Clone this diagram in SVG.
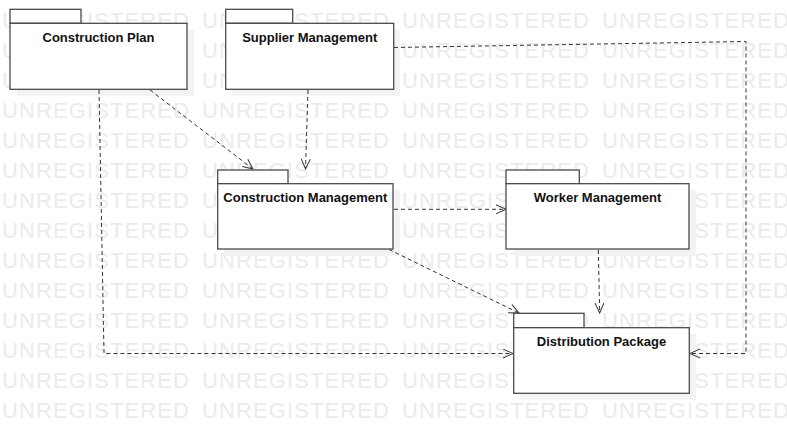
<svg xmlns="http://www.w3.org/2000/svg" width="787" height="433" viewBox="0 0 787 433">
<defs>
<style>
.wm{font-family:"Liberation Sans",Arial,sans-serif;font-size:22px;fill:#ebebeb}
.sh{fill:#f3f3f3}
.box{fill:#fff;stroke:#4a4a4a;stroke-width:1.3}
.lbl{font-family:"Liberation Sans",Arial,sans-serif;font-size:13px;font-weight:bold;fill:#111;text-anchor:middle}
.dep{fill:none;stroke:#333;stroke-width:1;stroke-dasharray:4,3}
</style>
<marker id="open" markerUnits="userSpaceOnUse" markerWidth="14" markerHeight="12" refX="11" refY="5" orient="auto" viewBox="0 0 14 12">
<path d="M1,0.5 L11,5 L1,9.5" fill="none" stroke="#333" stroke-width="1"/>
</marker>
</defs>
<rect width="787" height="433" fill="#fff"/>
<g id="watermark">
<text class="wm" x="2" y="27.7" textLength="187">UNREGISTERED</text><text class="wm" x="202" y="27.7" textLength="187">UNREGISTERED</text><text class="wm" x="402" y="27.7" textLength="187">UNREGISTERED</text><text class="wm" x="602" y="27.7" textLength="187">UNREGISTERED</text>
<text class="wm" x="2" y="57.7" textLength="187">UNREGISTERED</text><text class="wm" x="202" y="57.7" textLength="187">UNREGISTERED</text><text class="wm" x="402" y="57.7" textLength="187">UNREGISTERED</text><text class="wm" x="602" y="57.7" textLength="187">UNREGISTERED</text>
<text class="wm" x="2" y="87.7" textLength="187">UNREGISTERED</text><text class="wm" x="202" y="87.7" textLength="187">UNREGISTERED</text><text class="wm" x="402" y="87.7" textLength="187">UNREGISTERED</text><text class="wm" x="602" y="87.7" textLength="187">UNREGISTERED</text>
<text class="wm" x="2" y="117.7" textLength="187">UNREGISTERED</text><text class="wm" x="202" y="117.7" textLength="187">UNREGISTERED</text><text class="wm" x="402" y="117.7" textLength="187">UNREGISTERED</text><text class="wm" x="602" y="117.7" textLength="187">UNREGISTERED</text>
<text class="wm" x="2" y="147.7" textLength="187">UNREGISTERED</text><text class="wm" x="202" y="147.7" textLength="187">UNREGISTERED</text><text class="wm" x="402" y="147.7" textLength="187">UNREGISTERED</text><text class="wm" x="602" y="147.7" textLength="187">UNREGISTERED</text>
<text class="wm" x="2" y="177.7" textLength="187">UNREGISTERED</text><text class="wm" x="202" y="177.7" textLength="187">UNREGISTERED</text><text class="wm" x="402" y="177.7" textLength="187">UNREGISTERED</text><text class="wm" x="602" y="177.7" textLength="187">UNREGISTERED</text>
<text class="wm" x="2" y="207.7" textLength="187">UNREGISTERED</text><text class="wm" x="202" y="207.7" textLength="187">UNREGISTERED</text><text class="wm" x="402" y="207.7" textLength="187">UNREGISTERED</text><text class="wm" x="602" y="207.7" textLength="187">UNREGISTERED</text>
<text class="wm" x="2" y="237.7" textLength="187">UNREGISTERED</text><text class="wm" x="202" y="237.7" textLength="187">UNREGISTERED</text><text class="wm" x="402" y="237.7" textLength="187">UNREGISTERED</text><text class="wm" x="602" y="237.7" textLength="187">UNREGISTERED</text>
<text class="wm" x="2" y="267.7" textLength="187">UNREGISTERED</text><text class="wm" x="202" y="267.7" textLength="187">UNREGISTERED</text><text class="wm" x="402" y="267.7" textLength="187">UNREGISTERED</text><text class="wm" x="602" y="267.7" textLength="187">UNREGISTERED</text>
<text class="wm" x="2" y="297.7" textLength="187">UNREGISTERED</text><text class="wm" x="202" y="297.7" textLength="187">UNREGISTERED</text><text class="wm" x="402" y="297.7" textLength="187">UNREGISTERED</text><text class="wm" x="602" y="297.7" textLength="187">UNREGISTERED</text>
<text class="wm" x="2" y="327.7" textLength="187">UNREGISTERED</text><text class="wm" x="202" y="327.7" textLength="187">UNREGISTERED</text><text class="wm" x="402" y="327.7" textLength="187">UNREGISTERED</text><text class="wm" x="602" y="327.7" textLength="187">UNREGISTERED</text>
<text class="wm" x="2" y="357.7" textLength="187">UNREGISTERED</text><text class="wm" x="202" y="357.7" textLength="187">UNREGISTERED</text><text class="wm" x="402" y="357.7" textLength="187">UNREGISTERED</text><text class="wm" x="602" y="357.7" textLength="187">UNREGISTERED</text>
<text class="wm" x="2" y="387.7" textLength="187">UNREGISTERED</text><text class="wm" x="202" y="387.7" textLength="187">UNREGISTERED</text><text class="wm" x="402" y="387.7" textLength="187">UNREGISTERED</text><text class="wm" x="602" y="387.7" textLength="187">UNREGISTERED</text>
<text class="wm" x="2" y="417.7" textLength="187">UNREGISTERED</text><text class="wm" x="202" y="417.7" textLength="187">UNREGISTERED</text><text class="wm" x="402" y="417.7" textLength="187">UNREGISTERED</text><text class="wm" x="602" y="417.7" textLength="187">UNREGISTERED</text>
</g>
<g id="shadows">
<rect class="sh" x="17" y="30" width="177" height="66"/>
<rect class="sh" x="232" y="30" width="168" height="66"/>
<rect class="sh" x="224" y="190" width="176" height="66"/>
<rect class="sh" x="513" y="190" width="183" height="66"/>
<rect class="sh" x="520" y="334" width="176" height="66"/>
</g>
<g id="connectors">
<line class="dep" x1="150" y1="90" x2="253" y2="169" marker-end="url(#open)"/>
<line class="dep" x1="308" y1="90" x2="305.5" y2="169" marker-end="url(#open)"/>
<polyline class="dep" points="99,90 104,353.5 513,353.5" marker-end="url(#open)"/>
<polyline class="dep" points="394,47.5 746,41.5 746,353.5 690,353.5" marker-end="url(#open)"/>
<line class="dep" x1="394" y1="209.3" x2="506" y2="209.3" marker-end="url(#open)"/>
<line class="dep" x1="389" y1="249.5" x2="519" y2="313" marker-end="url(#open)"/>
<line class="dep" x1="598.3" y1="250" x2="599.7" y2="313" marker-end="url(#open)"/>
</g>
<g id="construction-plan">
<rect class="box" x="10" y="9.3" width="71" height="14"/>
<rect class="box" x="10" y="23.3" width="177" height="66"/>
<text class="lbl" x="98.5" y="41.5">Construction Plan</text>
</g>
<g id="supplier-management">
<rect class="box" x="225.7" y="9.3" width="67" height="14"/>
<rect class="box" x="225.7" y="23.3" width="168" height="66"/>
<text class="lbl" x="309.7" y="41.5">Supplier Management</text>
</g>
<g id="construction-management">
<rect class="box" x="217.7" y="170" width="70.3" height="13.7"/>
<rect class="box" x="217.7" y="183.7" width="175.3" height="65.3"/>
<text class="lbl" x="305.3" y="201.7">Construction Management</text>
</g>
<g id="worker-management">
<rect class="box" x="506" y="170" width="73.3" height="13.7"/>
<rect class="box" x="506" y="183.7" width="183" height="65.3"/>
<text class="lbl" x="597.5" y="201.7">Worker Management</text>
</g>
<g id="distribution-package">
<rect class="box" x="513.7" y="313.3" width="70.3" height="14.4"/>
<rect class="box" x="513.7" y="327.7" width="175.6" height="65.6"/>
<text class="lbl" x="601.5" y="345.7">Distribution Package</text>
</g>
</svg>
